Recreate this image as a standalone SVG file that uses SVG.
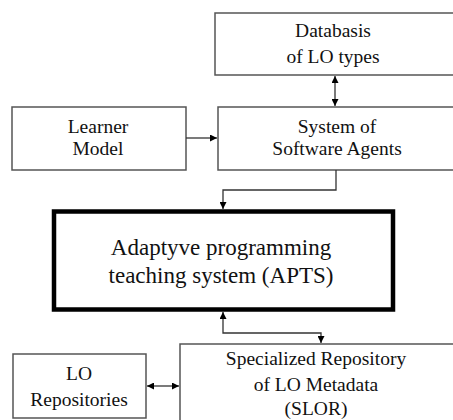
<svg xmlns="http://www.w3.org/2000/svg" width="453" height="420" viewBox="0 0 453 420">
<style>
.box{fill:#fff;stroke:#555;stroke-width:1.5}
.main{fill:#fff;stroke:#000;stroke-width:4.5}
text{font-family:'Liberation Serif','DejaVu Serif',serif;font-size:19.5px;fill:#111;text-anchor:middle}
.big{font-size:23px}
.c{fill:none;stroke:#333;stroke-width:1.3}
</style>
<defs>
<marker id="ah" viewBox="0 0 10 10" refX="10" refY="5" markerWidth="7" markerHeight="7" markerUnits="userSpaceOnUse" orient="auto-start-reverse">
<path d="M0,0 L10,5 L0,10 Z" fill="#000"/>
</marker>
</defs>
<rect width="453" height="420" fill="#fff"/>
<g id="db"><rect class="box" x="215" y="13" width="250" height="62"/><text x="333" y="37">Databasis</text><text x="333" y="63">of LO types</text></g>
<g id="learner"><rect class="box" x="12" y="107" width="174" height="63"/><text x="98" y="133">Learner</text><text x="98" y="155">Model</text></g>
<g id="agents"><rect class="box" x="218" y="107" width="250" height="63"/><text x="337" y="133">System of</text><text x="337" y="155">Software Agents</text></g>
<g id="apts"><rect class="main" x="54" y="211.5" width="339" height="98"/><text class="big" x="221" y="255">Adaptyve programming</text><text class="big" x="221" y="283">teaching system (APTS)</text></g>
<g id="lorep"><rect class="box" x="13" y="354" width="133" height="64"/><text x="79" y="380">LO</text><text x="79" y="406">Repositories</text></g>
<g id="slor"><rect class="box" x="180" y="344" width="290" height="90"/><text x="316" y="365">Specialized Repository</text><text x="316" y="391">of LO Metadata</text><text x="316" y="415">(SLOR)</text></g>
<g id="connectors">
<path class="c" d="M335,76 L335,106" marker-start="url(#ah)" marker-end="url(#ah)"/>
<path class="c" d="M186,138 L217,138" marker-end="url(#ah)"/>
<path class="c" d="M336,170 L336,190 L223,190 L223,209" marker-end="url(#ah)"/>
<path class="c" d="M223,312 L223,333 L321,333 L321,343" marker-start="url(#ah)" marker-end="url(#ah)"/>
<path class="c" d="M147,386 L179,386" marker-start="url(#ah)" marker-end="url(#ah)"/>
</g>
</svg>
